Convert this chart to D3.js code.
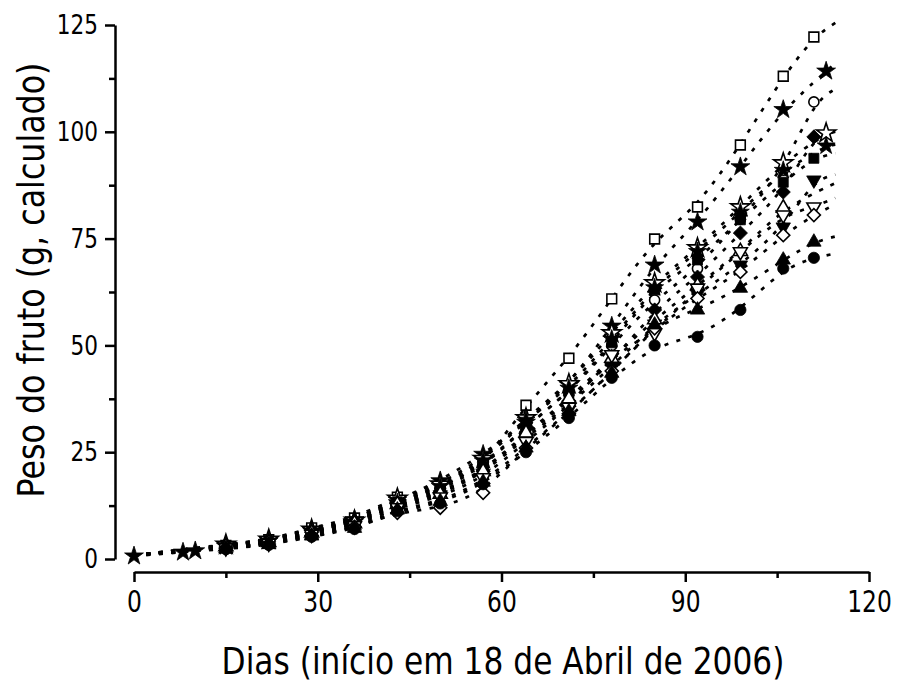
<!DOCTYPE html>
<html><head><meta charset="utf-8">
<script src="https://cdn.jsdelivr.net/npm/d3@7"></script>
<style>body{margin:0;background:#fff}svg{display:block}</style>
</head><body><svg id="c" width="897" height="684"></svg>
<script>
// ---------- DATA ----------
const xTicks = [0, 30, 60, 90, 120];
const xMinorTicks = [15, 45, 75, 105];
const yTicks = [0, 25, 50, 75, 100, 125];
const yMinorTicks = [12.5, 37.5, 62.5, 87.5, 112.5];

const days111  = [15, 22, 29, 36, 43, 50, 57, 64, 71, 78, 85, 92, 99, 106, 111];
const days113  = [15, 22, 29, 36, 43, 50, 57, 64, 71, 78, 85, 92, 99, 106, 113];
const daysStar = [0, 8, 10, 15, 22, 29, 36, 43, 50, 57, 64, 71, 78, 85, 92, 99, 106, 113];
const days106  = [15, 22, 29, 36, 43, 50, 57, 64, 71, 78, 85, 92, 99, 106];

const openSquare     = [3.2, 4.5, 7.3, 9.6, 14.5, 16.5, 22.0, 36.0, 47.0, 60.9, 74.9, 82.4, 96.9, 113.0, 122.2];
const filledStar     = [0.7, 1.6, 1.9, 3.0, 4.3, 6.8, 9.2, 13.8, 18.3, 24.5, 32.0, 40.7, 54.5, 68.8, 78.9, 91.8, 105.2, 114.2];
const openCircle     = [3.3, 4.4, 6.5, 8.8, 13.5, 16.5, 22.0, 31.0, 39.0, 50.0, 60.6, 68.0, 79.5, 91.0, 107.0];
const filledDiamond  = [2.8, 4.0, 6.2, 8.5, 13.0, 15.5, 20.5, 29.0, 37.0, 46.0, 58.3, 66.0, 76.3, 85.9, 98.8];
const openStar       = [3.4, 4.6, 6.9, 9.0, 14.2, 17.5, 23.5, 33.0, 41.0, 52.9, 64.6, 72.8, 82.4, 92.7, 99.7];
const filledStar2    = [3.1, 4.2, 6.6, 8.7, 13.2, 17.0, 23.0, 32.5, 40.0, 51.5, 63.5, 72.0, 81.2, 91.0, 96.7];
const filledSquare   = [3.0, 4.1, 6.4, 8.6, 13.4, 16.0, 21.5, 31.0, 39.0, 50.6, 63.0, 70.0, 79.4, 88.2, 93.8];
const filledTriDown  = [2.7, 3.8, 6.0, 8.2, 12.5, 15.0, 20.0, 28.5, 36.0, 45.0, 55.0, 62.0, 68.8, 77.7, 88.7];
const openTriUp      = [2.9, 3.9, 6.1, 8.3, 12.8, 15.2, 20.5, 29.5, 37.5, 47.0, 56.0, 64.0, 72.0, 82.2];
const openTriDown    = [2.6, 3.7, 5.8, 7.8, 12.0, 14.5, 19.0, 27.5, 35.5, 47.8, 52.9, 63.4, 71.9, 80.5, 82.4];
const openDiamond    = [2.5, 3.5, 5.5, 7.5, 10.8, 12.0, 15.5, 26.0, 34.0, 44.0, 54.0, 61.0, 67.2, 75.8, 80.5];
const filledTriUp    = [2.4, 3.4, 5.4, 7.2, 11.5, 13.5, 18.0, 26.0, 34.5, 43.5, 54.8, 58.3, 63.4, 70.0, 74.2];
const filledCircle   = [2.3, 3.3, 5.2, 7.0, 11.2, 13.0, 17.5, 25.0, 33.0, 42.4, 50.0, 52.0, 58.3, 68.0, 70.5];

// fitted-curve end points (day 0 and day 114.5)
const fitStartDay = 0, fitEndDay = 114.5;
const fitStartValue = 0.9;
const fitEndValues = {
  openSquare: 125.5, filledStar: 116, openCircle: 110, filledDiamond: 100, openStar: 99.5,
  filledStar2: 97, filledSquare: 95, filledTriDown: 90, openTriUp: 88, openTriDown: 84.5,
  openDiamond: 83, filledTriUp: 75.5, filledCircle: 71.5
};

// ---------- SERIES TABLE ----------
const series = [
  {key:"openSquare",    days:days111,  vals:openSquare,    sym:d3.symbolSquare,   size:95,  filled:false, rot:0},
  {key:"filledStar",    days:daysStar, vals:filledStar,    sym:d3.symbolStar,     size:110, filled:true,  rot:0},
  {key:"openCircle",    days:days111,  vals:openCircle,    sym:d3.symbolCircle,   size:80,  filled:false, rot:0},
  {key:"filledDiamond", days:days111,  vals:filledDiamond, sym:d3.symbolSquare,   size:100, filled:true,  rot:45},
  {key:"openStar",      days:days113,  vals:openStar,      sym:d3.symbolStar,     size:115, filled:false, rot:0},
  {key:"filledStar2",   days:days113,  vals:filledStar2,   sym:d3.symbolStar,     size:100, filled:true,  rot:0},
  {key:"filledSquare",  days:days111,  vals:filledSquare,  sym:d3.symbolSquare,   size:100, filled:true,  rot:0},
  {key:"filledTriDown", days:days111,  vals:filledTriDown, sym:d3.symbolTriangle, size:90,  filled:true,  rot:180},
  {key:"openTriUp",     days:days106,  vals:openTriUp,     sym:d3.symbolTriangle, size:85,  filled:false, rot:0},
  {key:"openTriDown",   days:days111,  vals:openTriDown,   sym:d3.symbolTriangle, size:85,  filled:false, rot:180},
  {key:"openDiamond",   days:days111,  vals:openDiamond,   sym:d3.symbolSquare,   size:85,  filled:false, rot:45},
  {key:"filledTriUp",   days:days111,  vals:filledTriUp,   sym:d3.symbolTriangle, size:90,  filled:true,  rot:0},
  {key:"filledCircle",  days:days111,  vals:filledCircle,  sym:d3.symbolCircle,   size:100, filled:true,  rot:0}
];

// ---------- CHART ----------
const svg = d3.select("#c");
const font = "'DejaVu Sans', Verdana, sans-serif";
const x = d3.scaleLinear().domain([0, 120]).range([134, 869]);
const y = d3.scaleLinear().domain([0, 125]).range([559, 25]);

// fitted dotted curves
const line = d3.line().x(d => x(d[0])).y(d => y(d[1])).curve(d3.curveBasis);
const gLines = svg.append("g");
series.forEach(s => {
  const pts = s.days.map((d, i) => [d, s.vals[i]]);
  if (s.days[0] > fitStartDay) pts.unshift([fitStartDay, fitStartValue]);
  pts.push([fitEndDay, fitEndValues[s.key]]);
  gLines.append("path").attr("d", line(pts))
    .attr("fill", "none").attr("stroke", "#000")
    .attr("stroke-width", 2.7).attr("stroke-dasharray", "4,8.5");
});

// markers
const gPts = svg.append("g");
series.forEach(s => {
  const sym = d3.symbol().type(s.sym).size(s.size);
  gPts.append("g").selectAll("path").data(s.days.map((d, i) => [d, s.vals[i]]))
    .join("path")
    .attr("d", sym)
    .attr("transform", d => `translate(${x(d[0])},${y(d[1])}) rotate(${s.rot})`)
    .attr("fill", s.filled ? "#000" : "#fff")
    .attr("stroke", "#000").attr("stroke-width", s.filled ? 0.8 : 1.6);
});

// axes
const yAxis = svg.append("g").attr("transform", "translate(115,0)")
  .call(d3.axisLeft(y).tickValues(yTicks).tickSize(10).tickSizeOuter(0).tickPadding(7));
svg.append("g").attr("transform", "translate(115,0)")
  .call(d3.axisLeft(y).tickValues(yMinorTicks).tickSize(6).tickFormat(""))
  .select(".domain").remove();
const xAxis = svg.append("g").attr("transform", "translate(0,572)")
  .call(d3.axisBottom(x).tickValues(xTicks).tickSize(10).tickSizeOuter(0).tickPadding(9));
svg.append("g").attr("transform", "translate(0,572)")
  .call(d3.axisBottom(x).tickValues(xMinorTicks).tickSize(6).tickFormat(""))
  .select(".domain").remove();

svg.selectAll(".domain, .tick line").attr("stroke", "#000").attr("stroke-width", 2.5);
yAxis.selectAll("text").attr("font-family", font).attr("font-size", 27).attr("fill", "#000")
  .attr("transform", "translate(-17,0) scale(0.8,1) translate(17,0)");
xAxis.selectAll("text").attr("font-family", font).attr("font-size", 30).attr("fill", "#000")
  .attr("transform", "scale(0.78,1)");

// titles
const yt = svg.append("text").text("Peso do fruto (g, calculado)")
  .attr("font-family", font).attr("font-size", 37).attr("text-anchor", "middle");
const ytL = yt.node().getComputedTextLength();
yt.attr("transform", `translate(44,280) rotate(-90) scale(${435 / ytL},1)`);

const xt = svg.append("text").text("Dias (início em 18 de Abril de 2006)")
  .attr("font-family", font).attr("font-size", 38).attr("text-anchor", "middle");
const xtL = xt.node().getComputedTextLength();
xt.attr("transform", `translate(503,674) scale(${563 / xtL},1)`);
</script></body></html>
